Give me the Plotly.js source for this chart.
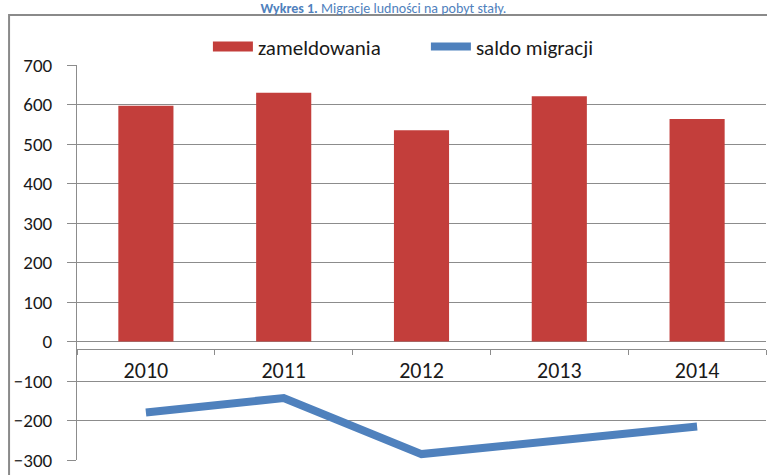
<!DOCTYPE html>
<html>
<head>
<meta charset="utf-8">
<script src="https://cdn.plot.ly/plotly-3.0.1.min.js"></script>
<style>html,body{margin:0;padding:0;background:#fff;}#chart{width:767px;height:475px;}</style>
</head>
<body>
<div id="chart"></div>
<script>
const years = ['2010', '2011', '2012', '2013', '2014'];
const zameldowania = [597, 630, 535, 621, 563];
const saldoMigracji = [-180, -143, -285, -249, -215];
const seriesNames = ['zameldowania', 'saldo migracji'];
const titleText = '<b>Wykres 1.</b> Migracje ludności na pobyt stały.';

const font = 'Carlito, Lato, Liberation Sans, Arial, sans-serif';
const barColor = '#C33E3B';

const traces = [
  {
    type: 'bar', x: years, y: zameldowania, name: seriesNames[0], showlegend: false,
    marker: {color: barColor, line: {width: 0}},
    width: 0.4
  },
  {
    // legend swatch for the bars (wide rectangle like the reference legend)
    type: 'scatter', mode: 'lines', x: years, y: zameldowania, name: seriesNames[0],
    visible: 'legendonly', line: {color: barColor, width: 15}
  },
  {
    type: 'scatter', mode: 'lines', x: years, y: saldoMigracji, name: seriesNames[1],
    line: {color: '#4F81BD', width: 8}
  }
];

const layout = {
  width: 767, height: 475,
  margin: {l: 77, r: 1, t: 65, b: 15},
  paper_bgcolor: '#fff', plot_bgcolor: '#fff',
  font: {family: font, size: 17, color: '#1a1a1a'},
  title: {text: titleText, font: {family: font, size: 14, color: '#4F81BD'},
          x: 0.5, xanchor: 'center', y: 0.984, yref: 'container', yanchor: 'middle'},
  showlegend: true,
  legend: {orientation: 'h', x: 0.19, xanchor: 'left', y: 1.046, yanchor: 'middle',
           font: {family: font, size: 21, color: '#1a1a1a'}, itemwidth: 40, tracegroupgap: 0,
           entrywidth: 163, entrywidthmode: 'pixels', bgcolor: 'rgba(0,0,0,0)'},
  xaxis: {
    type: 'category', anchor: 'free', position: 0.28,
    showline: true, linecolor: '#8c8c8c', linewidth: 1,
    ticks: 'outside', tickson: 'boundaries', ticklen: 5, tickcolor: '#8c8c8c',
    ticklabelstandoff: 1, showgrid: false, zeroline: false,
    tickfont: {family: font, size: 22, color: '#1a1a1a'}
  },
  yaxis: {
    range: [-300, 700], dtick: 100, tick0: 0,
    showline: true, linecolor: '#8c8c8c', linewidth: 1,
    ticks: 'outside', ticklen: 9, tickcolor: '#8c8c8c',
    showgrid: true, gridcolor: '#8c8c8c', gridwidth: 1, zeroline: false,
    tickfont: {family: font, size: 19, color: '#1a1a1a'}, ticklabelstandoff: 11
  },
  shapes: [{
    type: 'rect', xref: 'paper', yref: 'paper',
    x0: -0.0986, x1: 1.05, y0: -0.1, y1: 1.1266,
    line: {color: '#8a8a8a', width: 2}, layer: 'below'
  }]
};

Plotly.newPlot('chart', traces, layout, {displayModeBar: false, staticPlot: true}).then(function () {
  document.querySelectorAll('.legend .traces').forEach(function (el) { el.style.opacity = 1; });
});
</script>
</body>
</html>
